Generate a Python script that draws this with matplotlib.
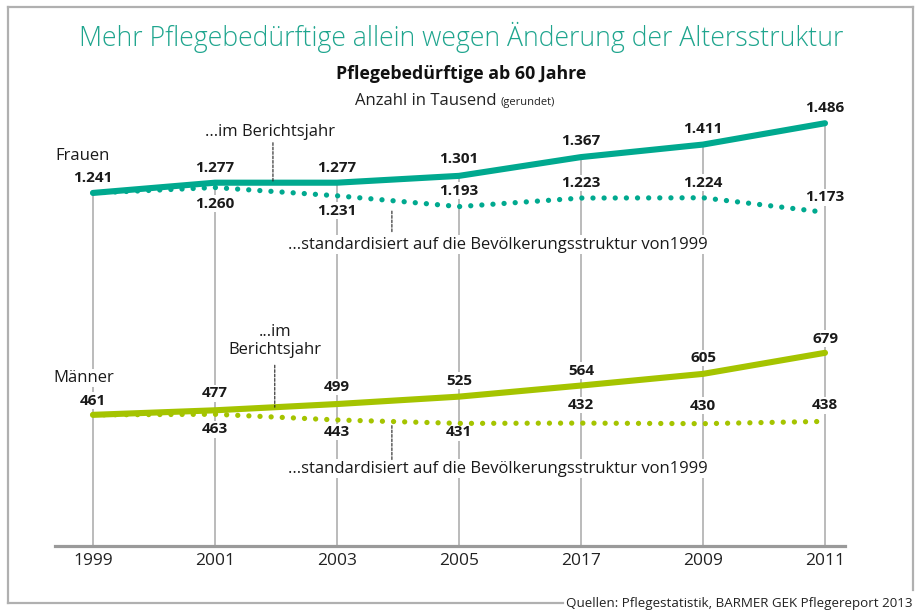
import matplotlib
matplotlib.use("Agg")
import matplotlib.pyplot as plt
from matplotlib.lines import Line2D
import numpy as np

years = ["1999", "2001", "2003", "2005", "2017", "2009", "2011"]
frauen = [1241, 1277, 1277, 1301, 1367, 1411, 1486]
frauen_std = [1241, 1260, 1231, 1193, 1223, 1224, 1173]
maenner = [461, 477, 499, 525, 564, 605, 679]
maenner_std = [461, 463, 443, 431, 432, 430, 438]

TEAL = "#00a98f"
GREEN = "#a5c400"
GRID = "#a8a8a8"
FONT = "Open Sans"

plt.rcParams["font.family"] = [FONT, "DejaVu Sans"]

W, H = 917, 615
fig = plt.figure(figsize=(W / 100, H / 100), dpi=100)

def fx(x): return x / W
def fy(y): return 1 - y / H

# axes placed so the categories sit at the reference pixel columns
ax = fig.add_axes([fx(55), fy(546), (845 - 55) / W, (546 - 100) / H])
x = np.arange(len(years))
ax.set_xlim(-38 / 122, 6 + 20 / 122)
ax.set_ylim(0, 446 / 0.2845)

for s in ("top", "left", "right"):
    ax.spines[s].set_visible(False)
ax.spines["bottom"].set_color("#9a9a9a")
ax.spines["bottom"].set_linewidth(2.3)
ax.set_yticks([])
ax.set_xticks(x, years)
ax.tick_params(axis="x", length=0, pad=5, labelsize=12.5, colors="#222222")

# vertical guide lines from axis up to the Frauen value
ax.vlines(x, 0, frauen, color=GRID, lw=1.1, zorder=1)

ax.plot(x, frauen, color=TEAL, lw=4.4, solid_capstyle="round", zorder=5)
ax.plot(x, frauen_std, color=TEAL, lw=3.8, ls=(0, (0.01, 2.1)),
        dash_capstyle="round", zorder=5)
ax.plot(x, maenner, color=GREEN, lw=4.4, solid_capstyle="round", zorder=5)
ax.plot(x, maenner_std, color=GREEN, lw=3.8, ls=(0, (0.01, 2.1)),
        dash_capstyle="round", zorder=5)

def fmt(v):
    return f"{v:,}".replace(",", ".")

box = dict(fc="white", ec="none", pad=1.0)

# offsets in pixels, positive = above the point
def labels(vals, offs, skip_first=False):
    for i, (v, o) in enumerate(zip(vals, offs)):
        if skip_first and i == 0:
            continue
        ax.annotate(fmt(v), (i, v), xytext=(0, o), textcoords="offset pixels",
                    ha="center", va="center", fontsize=11, fontweight="bold",
                    color="#1a1a1a", bbox=box, zorder=3)

labels(frauen, [15, 15, 15, 17, 16, 16, 15])
labels(frauen_std, [0, -16, -15, 16, 15, 15, 15], skip_first=True)
labels(maenner, [14, 17, 17, 16, 15, 16, 14])
labels(maenner_std, [0, -15, -12, -9, 18, 18, 16], skip_first=True)

# series names
ax.annotate("Frauen", (0, frauen[0]), xytext=(-38, 37), textcoords="offset pixels",
            ha="left", va="center", fontsize=12, color="#1a1a1a", bbox=box, zorder=3)
ax.annotate("Männer", (0, maenner[0]), xytext=(-40, 37), textcoords="offset pixels",
            ha="left", va="center", fontsize=12, color="#1a1a1a", bbox=box, zorder=3)

dash = dict(arrowstyle="-", ls=(0, (2.5, 1.5)), lw=0.8, color="#222222",
            shrinkA=0, shrinkB=0)

def pointer_up(series, xp, length, text, tx, ty):
    yv = np.interp(xp, x, series)
    ax.annotate("", (xp, yv), xytext=(0, length), textcoords="offset pixels",
                arrowprops=dash, zorder=6)
    ax.annotate(text, (xp, yv), xytext=(tx, ty), textcoords="offset pixels",
                ha="center", va="center", fontsize=12, color="#1a1a1a",
                multialignment="center", linespacing=1.15, bbox=box, zorder=3)

pointer_up(frauen, 1.475, 40, "...im Berichtsjahr", -3, 51)
pointer_up(maenner, 1.49, 42, "...im\nBerichtsjahr", 0, 66)

# pointers below the standardised lines start a bit below the dots
std_text = "...standardisiert auf die Bevölkerungsstruktur von1999"
for series, gap, length, ty in ((frauen_std, 7, -31, -44), (maenner_std, 2, -38, -47)):
    xp = 2.45
    yv = np.interp(xp, x, series)
    ax.annotate("", (xp, yv), xytext=(0, length), textcoords="offset pixels",
                arrowprops=dict(dash, shrinkB=gap), zorder=6)
    ax.annotate(std_text, (xp, yv), xytext=(-104, ty),
                textcoords="offset pixels", ha="left", va="center",
                fontsize=12, color="#1a1a1a", bbox=box, zorder=3)

# titles
fig.text(fx(461), fy(37), "Mehr Pflegebedürftige allein wegen Änderung der Altersstruktur",
         ha="center", va="center", fontsize=19.2, color="#1fa58e", fontweight="light")
fig.text(fx(461), fy(74), "Pflegebedürftige ab 60 Jahre", ha="center", va="center",
         fontsize=12.8, fontweight="bold", color="#111111")
fig.text(fx(501), fy(101), "Anzahl in Tausend ", ha="right", va="center",
         fontsize=12, color="#222222")
fig.text(fx(501), fy(102), "(gerundet)", ha="left", va="center",
         fontsize=8, color="#222222")

fig.text(fx(913), fy(604), "Quellen: Pflegestatistik, BARMER GEK Pflegereport 2013",
         ha="right", va="center", fontsize=9.6, color="#222222")

# frame
fc = "#b0b0b0"
for xs, ys in (((8, 913), (7, 7)), ((8, 8), (7, 603)), ((8, 563), (603, 603)),
               ((913, 913), (7, 590))):
    fig.add_artist(Line2D([fx(v) for v in xs], [fy(v) for v in ys],
                          color=fc, lw=1.6))

fig.savefig("out.png", dpi=100)
